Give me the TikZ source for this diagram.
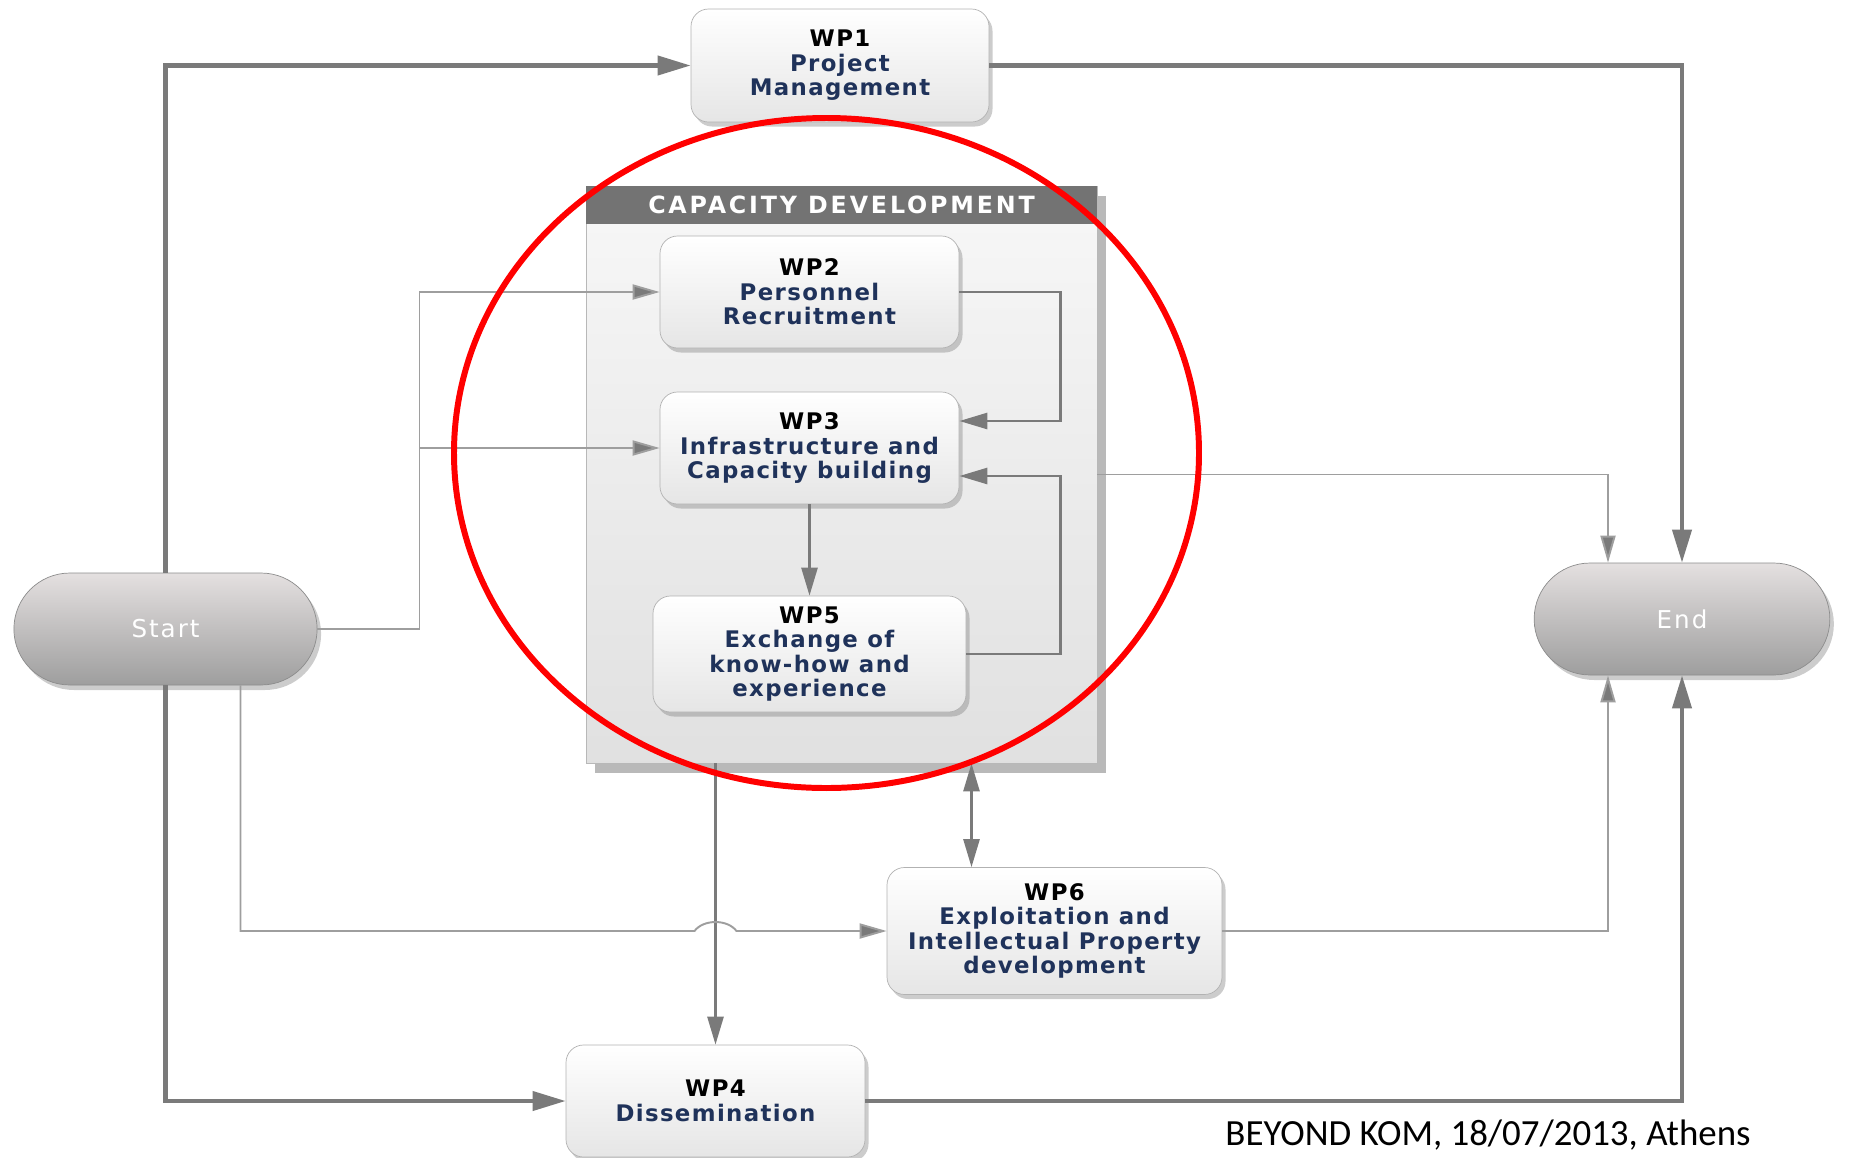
\documentclass[tikz,border=0pt]{standalone}
\usepackage{fontspec}
\newfontfamily\wpfont[LetterSpace=6]{DejaVu Sans}
\newfontfamily\termfont[LetterSpace=8]{DejaVu Sans}
\newfontfamily\capfont[LetterSpace=12]{DejaVu Sans}
\newfontfamily\footfont{Carlito}
\usetikzlibrary{arrows.meta,calc,shadows,shapes.misc}
\definecolor{wpblue}{RGB}{31,50,90}
\definecolor{lndark}{RGB}{122,122,122}
\definecolor{lnlight}{RGB}{158,158,158}
\definecolor{boxedge}{RGB}{178,178,178}
\definecolor{capgray}{RGB}{115,115,115}
\tikzset{
  wpbox/.style 2 args={draw=boxedge, rounded corners=0.35cm, minimum width=#1*0.02cm,
    minimum height=#2*0.02cm, inner sep=0pt, top color=white, bottom color=black!10,
    align=center, text=wpblue, font=\wpfont\bfseries\fontsize{13}{14}\selectfont,
    drop shadow={shadow xshift=0.07cm, shadow yshift=-0.09cm, opacity=0.4}},
  terminal/.style={rounded rectangle, draw=black!45, minimum width=#1, minimum height=2.24cm,
    top color={rgb,255:red,228;green,224;blue,224}, bottom color={rgb,255:red,158;green,158;blue,158},
    text=white, font=\termfont\fontsize{14}{16}\selectfont,
    drop shadow={shadow xshift=0.08cm, shadow yshift=-0.1cm, opacity=0.4}},
  capframe/.style={draw=black!28, minimum width=511*0.02cm, minimum height=577*0.02cm,
    inner sep=0pt, top color=black!3, bottom color=black!12,
    drop shadow={shadow xshift=0.18cm, shadow yshift=-0.2cm, opacity=0.55}},
  capbar/.style={fill=capgray, text=white, minimum width=511*0.02cm, minimum height=0.76cm,
    inner sep=0pt, font=\capfont\bfseries\fontsize{13.5}{15}\selectfont},
  thickln/.style={draw=lndark, line width=2.3pt, -{Triangle[length=0.66cm,width=0.38cm]}},
  midln/.style={draw=lndark, line width=1.5pt, -{Triangle[length=0.56cm,width=0.32cm]}},
  thinln/.style={draw=lnlight, line width=1.1pt, -{Triangle[length=0.54cm,width=0.3cm,fill=lndark]}},
}
\begin{document}
\begin{tikzpicture}[x=0.02cm,y=-0.02cm]
\useasboundingbox (0,0) rectangle (1850,1157);
% capacity development frame
\node[capframe] (cap) at (841.5,474.5) {};
\node[capbar, anchor=north] (capttl) at (cap.north) {CAPACITY DEVELOPMENT};
% work packages
\node[wpbox={298}{113}] (wp1) at (840,65.5) {\textcolor{black}{WP1}\\Project\\Management};
\node[wpbox={299}{112}] (wp2) at (809.5,292) {\textcolor{black}{WP2}\\Personnel\\Recruitment};
\node[wpbox={299}{112}] (wp3) at (809.5,448) {\textcolor{black}{WP3}\\Infrastructure and\\Capacity building};
\node[wpbox={313}{116}] (wp5) at (809.5,654) {\textcolor{black}{WP5}\\Exchange of\\know-how and\\experience};
\node[wpbox={335}{127}] (wp6) at (1054.5,931) {\textcolor{black}{WP6}\\Exploitation and\\Intellectual Property\\development};
\node[wpbox={299}{112}] (wp4) at (715.5,1101) {\textcolor{black}{WP4}\\Dissemination};
\node[terminal=6.3cm] (start) at (165.5,629) {Start};
\node[terminal=6.15cm] (end) at (1682,619) {End};
% connectors
\draw[thickln] (start.north) |- (wp1.west);
\draw[thickln] (wp1.east) -| (end.north);
\draw[thickln] (start.south) |- (wp4.west);
\draw[thickln] (wp4.east) -| (end.south);
\coordinate (split) at ($(start.east)+(102,0)$);
\draw[thinln] (start.east) -- (split) |- (wp2.west);
\draw[thinln] (split) |- (wp3.west);
\draw[midln] (wp2.east) -- ++(101,0) |- ($(wp3.east)+(0,-27)$);
\draw[midln] (wp5.east) -- ++(94,0) |- ($(wp3.east)+(0,28)$);
\draw[midln] (wp3.south) -- (wp5.north);
\draw[thinln] (cap.east) -| ($(end.north)+(-74,0)$);
\draw[thinln] (wp6.east) -| ($(end.south)+(-74,0)$);
\draw[midln] (cap.south -| wp4.north) -- (wp4.north);
\coordinate (hop) at (wp4.north |- wp6.west);
\draw[thinln] ($(start.south)+(75,0)$) |- ($(hop)+(-21,0)$)
  .. controls +(9,-12) and +(-9,-12) .. ($(hop)+(21,0)$) -- (wp6.west);
\coordinate (dbl) at ($(wp6.north)+(-83,0)$);
\draw[midln, {Triangle[length=0.56cm,width=0.32cm]}-{Triangle[length=0.56cm,width=0.32cm]}]
  (dbl |- cap.south) -- (dbl);
% highlight
\draw[red, line width=3.4pt] (826.5,453) ellipse (372.5 and 335);
\node[font=\footfont\fontsize{21}{25}\selectfont, anchor=base] (foot) at (1488,1145)
  {BEYOND KOM, 18/07/2013, Athens};
\end{tikzpicture}
\end{document}
